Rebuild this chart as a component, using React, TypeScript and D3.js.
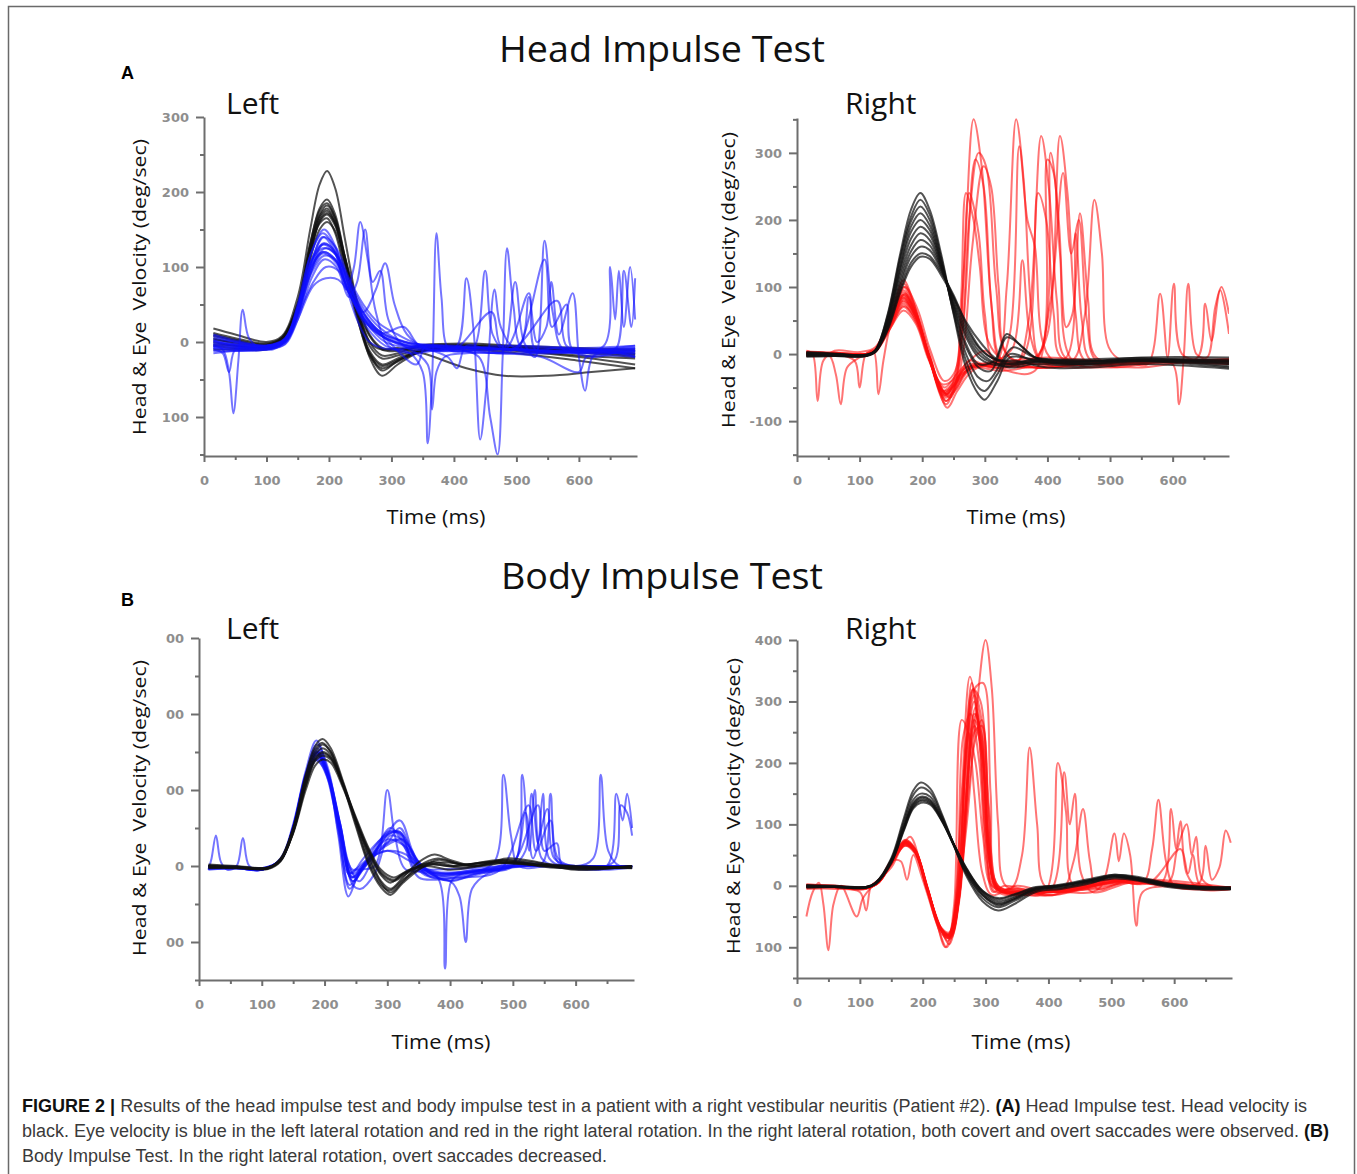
import React, { useEffect, useRef } from "react";
import * as d3 from "d3";

type Pt = [number, number];

// ---------- DATA ----------
const timeTicks = [0, 100, 200, 300, 400, 500, 600];
const timeMinor = [50, 150, 250, 350, 450, 550, 650];

const yTicksAL = [-100, 0, 100, 200, 300];
const yLabelsAL = ["100", "0", "100", "200", "300"];
const yMinorAL = [-150, -50, 50, 150, 250];

const yTicksAR = [-100, 0, 100, 200, 300];
const yLabelsAR = ["-100", "0", "100", "200", "300"];
const yMinorAR = [-150, -50, 50, 150, 250, 350];

const yTicksBL = [-100, 0, 100, 200, 300];
const yLabelsBL = ["100", "0", "100", "200", "300"];
const yMinorBL = [-150, -50, 50, 150, 250];

const yTicksBR = [-100, 0, 100, 200, 300, 400];
const yLabelsBR = ["100", "0", "100", "200", "300", "400"];
const yMinorBR = [-150, -50, 50, 150, 250, 350];

// Head Impulse Test, left: head velocity (black)
const headAL: Pt[][] = [
  [[15,18],[50,10],[100,0],[125,8],[150,60],[170,150],[185,210],[197,228],[210,205],[225,140],[245,50],[265,-20],[285,-45],[310,-30],[350,-12],[420,-10],[500,-15],[600,-25],[690,-35]],
  [[15,10],[50,3],[100,-3],[125,5],[150,50],[170,130],[185,178],[197,190],[210,170],[225,115],[245,40],[265,-15],[285,-38],[310,-25],[350,-10],[420,-8],[500,-12],[600,-20],[690,-30]],
  [[15,0],[50,-5],[100,-8],[125,2],[150,45],[170,125],[185,170],[197,182],[210,165],[225,115],[245,45],[265,0],[285,-10],[310,-8],[350,-15],[420,-35],[480,-45],[550,-45],[620,-40],[690,-35]],
  [[15,5],[50,-2],[100,-6],[125,4],[150,48],[170,128],[185,168],[197,178],[210,160],[225,108],[245,38],[265,-12],[285,-30],[310,-22],[350,-10],[420,-5],[500,-10],[600,-18],[690,-22]],
  [[15,-5],[50,-8],[100,-8],[125,0],[150,42],[170,120],[185,165],[197,175],[210,158],[225,112],[245,45],[265,-5],[285,-22],[310,-18],[350,-8],[420,-6],[500,-8],[600,-12],[690,-18]],
  [[15,-10],[50,-10],[100,-10],[125,-2],[150,38],[170,115],[185,160],[197,170],[210,155],[225,110],[245,48],[265,0],[285,-18],[310,-15],[350,-5],[420,-4],[500,-6],[600,-10],[690,-15]],
  [[15,3],[50,0],[100,-4],[125,6],[150,50],[170,122],[185,158],[197,165],[210,145],[225,95],[245,32],[265,-15],[285,-32],[310,-24],[350,-12],[420,-8],[500,-10],[600,-14],[690,-20]],
  [[15,-3],[50,-5],[100,-7],[125,2],[150,40],[170,110],[185,150],[197,160],[210,148],[225,105],[245,50],[265,8],[285,-10],[310,-12],[350,-6],[420,-5],[500,-8],[600,-12],[690,-16]],
  [[15,8],[50,2],[100,-5],[125,5],[150,52],[170,132],[185,175],[197,185],[210,165],[225,110],[245,35],[265,-18],[285,-35],[310,-26],[350,-12],[420,-6],[500,-8],[600,-10],[690,-12]],
  [[15,12],[50,5],[100,-2],[125,6],[150,46],[170,118],[185,162],[197,172],[210,158],[225,115],[245,55],[265,10],[285,-8],[310,-10],[350,-4],[420,-2],[500,-5],[600,-8],[690,-10]],
];

// Head Impulse Test, left: eye velocity (blue)
const eyeAL: Pt[][] = [
  [[15,-5],[30,-10],[40,-40],[47,-95],[55,-25],[62,43],[72,5],[90,-8],[110,-8],[130,5],[150,40],[170,90],[190,130],[205,125],[225,80],[245,30],[265,0],[300,-10],[350,-5],[420,-8],[500,-10],[600,-12],[690,-10]],
  [[15,-10],[30,-15],[40,-40],[50,-10],[80,-8],[110,-10],[130,2],[150,45],[170,100],[190,140],[210,120],[228,70],[240,100],[250,160],[262,110],[275,40],[295,-5],[330,-15],[380,-10],[450,-8],[550,-12],[690,-15]],
  [[15,2],[50,-5],[100,-5],[130,5],[150,50],[170,115],[192,150],[210,128],[230,70],[255,40],[275,70],[290,105],[305,50],[325,10],[360,-10],[420,-8],[500,-5],[600,-8],[690,-5]],
  [[15,-8],[50,-10],[100,-8],[130,2],[150,35],[175,80],[195,100],[215,95],[235,60],[260,20],[290,-5],[330,-15],[350,-40],[358,-135],[365,-50],[372,145],[380,60],[392,-10],[420,-12],[500,-10],[600,-15],[690,-12]],
  [[15,0],[50,-3],[100,-6],[130,0],[150,30],[175,75],[195,85],[215,83],[240,55],[260,25],[290,0],[330,-10],[358,-30],[365,-90],[372,-40],[385,-20],[420,-15],[500,-15],[600,-12],[690,-8]],
  [[15,5],[50,0],[100,-5],[130,3],[150,40],[172,100],[190,120],[210,110],[230,70],[255,30],[280,10],[320,-5],[380,-10],[405,-5],[420,85],[432,10],[442,-130],[452,-60],[465,70],[475,20],[500,-10],[600,-10],[690,-15]],
  [[15,-12],[50,-12],[100,-10],[130,-2],[150,35],[172,95],[190,118],[212,105],[235,60],[260,25],[290,5],[340,-8],[400,-10],[440,-20],[458,-100],[470,-150],[478,-20],[485,125],[495,50],[510,-10],[560,-15],[620,-12],[690,-10]],
  [[15,-3],[50,-6],[100,-8],[130,2],[150,42],[172,105],[190,130],[208,120],[230,80],[255,35],[285,10],[330,-5],[400,-8],[430,-10],[450,95],[462,10],[480,-10],[498,80],[512,0],[530,-20],[545,135],[558,40],[575,-10],[620,-15],[690,-12]],
  [[15,8],[50,0],[100,-5],[130,4],[150,45],[172,108],[190,125],[210,118],[230,85],[255,45],[280,20],[320,0],[380,-5],[450,-8],[505,-5],[520,60],[533,0],[548,20],[556,80],[568,10],[590,65],[600,-20],[610,-65],[622,-20],[650,-10],[690,-8]],
  [[15,-6],[50,-8],[100,-9],[130,0],[150,38],[172,98],[190,120],[210,110],[230,72],[255,32],[285,8],[330,-5],[400,-6],[500,-10],[580,-12],[640,-5],[650,100],[658,30],[664,95],[672,20],[682,100],[690,30]],
  [[15,-2],[50,-4],[100,-6],[130,4],[150,48],[172,120],[190,145],[210,125],[230,80],[255,40],[280,15],[320,0],[400,-5],[480,-10],[560,-14],[640,-10],[660,-8],[672,95],[684,20],[690,85]],
  [[15,-15],[50,-12],[100,-10],[130,-3],[150,30],[172,85],[192,110],[212,100],[232,60],[245,80],[258,150],[270,80],[282,95],[295,30],[320,-5],[380,-12],[450,-10],[530,-8],[600,-10],[690,-18]],
  [[15,10],[50,2],[100,-5],[130,4],[150,44],[172,110],[192,132],[212,118],[232,75],[255,38],[285,12],[330,-2],[390,-20],[405,-35],[420,-5],[480,-12],[520,65],[530,-10],[560,-8],[620,-10],[690,-5]],
  [[15,-5],[50,-7],[100,-7],[130,1],[150,40],[172,102],[195,125],[215,112],[236,72],[258,35],[285,12],[320,20],[345,-5],[400,-10],[460,40],[475,-5],[500,-10],[545,110],[557,20],[580,50],[590,-10],[640,-12],[690,-12]],
  [[15,2],[50,-3],[100,-6],[130,3],[150,42],[172,108],[192,140],[212,125],[232,85],[255,50],[280,25],[310,10],[350,-5],[410,-8],[490,-12],[565,55],[580,-5],[620,-20],[660,-15],[690,-20]],
  [[15,-8],[50,-10],[100,-8],[130,0],[150,36],[172,92],[192,115],[212,108],[232,70],[258,30],[290,5],[340,-30],[355,-5],[400,-12],[470,-15],[540,-20],[600,-40],[612,-20],[650,-18],[690,-20]],
];

// Head Impulse Test, right: head velocity (black)
const headAR: Pt[][] = [
  [[15,0],[60,-2],[110,-3],[125,5],[145,60],[165,150],[182,215],[197,240],[212,215],[230,150],[250,60],[270,-20],[290,-60],[300,-68],[320,-40],[340,-5],[380,-8],[450,-10],[550,-10],[690,-20]],
  [[15,-3],[60,-3],[110,-2],[125,6],[145,58],[165,145],[182,205],[197,230],[212,208],[230,145],[250,62],[270,-10],[290,-50],[300,-55],[320,-30],[340,0],[380,-10],[450,-12],[550,-8],[690,-18]],
  [[15,2],[60,0],[110,-2],[125,5],[145,55],[165,140],[182,198],[197,220],[212,200],[230,140],[250,65],[270,0],[290,-35],[305,-40],[325,-15],[345,10],[380,-5],[450,-8],[550,-6],[690,-15]],
  [[15,-2],[60,-2],[110,-3],[125,4],[145,52],[165,132],[182,190],[197,210],[212,192],[230,138],[250,70],[270,10],[290,-20],[310,-25],[335,25],[355,15],[380,-5],[450,-10],[550,-10],[690,-12]],
  [[15,0],[60,-1],[110,-2],[125,5],[145,50],[165,128],[182,182],[197,200],[212,185],[230,135],[250,72],[270,15],[290,-15],[315,-10],[335,30],[360,10],[390,-10],[450,-15],[550,-10],[690,-10]],
  [[15,3],[60,1],[110,-1],[125,5],[145,48],[165,122],[182,172],[197,190],[212,178],[230,132],[250,75],[270,25],[290,-5],[310,-15],[340,-18],[380,-12],[450,-15],[550,-8],[690,-8]],
  [[15,-4],[60,-3],[110,-3],[125,3],[145,45],[165,115],[182,162],[197,180],[212,170],[230,130],[250,78],[270,30],[290,0],[310,-12],[340,-15],[380,-8],[450,-12],[550,-5],[690,-5]],
  [[15,1],[60,0],[110,-2],[125,4],[145,42],[165,108],[182,153],[197,170],[212,162],[230,128],[250,82],[270,35],[290,5],[310,-10],[340,-20],[380,-15],[450,-18],[550,-12],[690,-15]],
  [[15,-1],[60,-2],[110,-2],[125,3],[145,40],[165,102],[182,145],[197,160],[212,155],[230,125],[250,85],[270,40],[290,10],[310,-5],[340,-12],[380,-10],[450,-12],[550,-8],[690,-10]],
  [[15,2],[60,0],[110,-1],[125,4],[145,38],[165,96],[182,136],[197,150],[212,146],[230,122],[250,88],[270,45],[290,12],[310,-5],[340,-15],[380,-12],[450,-15],[550,-10],[690,-12]],
  [[15,-2],[60,-1],[110,-2],[125,3],[145,36],[165,92],[182,130],[197,145],[212,142],[230,118],[250,85],[270,48],[295,15],[320,-8],[350,-10],[400,-20],[470,-20],[550,-15],[690,-22]],
];

// Head Impulse Test, right: eye velocity (red)
const eyeAR: Pt[][] = [
  [[15,5],[25,0],[33,-70],[42,-10],[60,5],[100,3],[125,10],[150,60],[170,110],[185,80],[205,10],[225,-40],[240,-60],[255,-20],[268,150],[282,350],[295,280],[310,80],[325,-10],[360,-20],[420,-15],[500,-10],[600,-12],[690,-10]],
  [[15,0],[50,0],[62,-30],[70,-75],[80,-20],[100,-5],[125,5],[150,50],[170,100],[188,70],[208,5],[230,-50],[245,-65],[260,-10],[275,200],[290,300],[302,280],[318,100],[335,0],[380,-15],[450,-10],[550,-12],[690,-8]],
  [[15,3],[60,0],[92,-10],[100,-50],[110,0],[125,8],[150,55],[170,95],[190,60],[210,0],[232,-55],[248,-45],[270,-20],[300,-15],[320,-10],[335,100],[350,350],[362,260],[375,60],[390,-10],[440,-20],[520,-15],[620,-10],[690,-12]],
  [[15,-2],[60,0],[110,0],[122,5],[130,-60],[138,-10],[150,45],[170,85],[190,55],[212,-5],[235,-60],[250,-50],[262,80],[270,240],[282,200],[292,130],[305,20],[330,-10],[380,-20],[460,-15],[560,-10],[690,-12]],
  [[15,0],[60,2],[110,0],[125,6],[150,50],[172,90],[192,55],[212,-10],[238,-75],[255,-40],[275,-10],[310,-20],[350,-15],[370,50],[390,325],[402,250],[415,80],[428,-5],[470,-15],[560,-10],[690,-10]],
  [[15,4],[60,2],[110,0],[125,5],[150,52],[170,105],[190,65],[210,0],[235,-65],[252,-55],[275,-20],[320,-15],[380,-5],[400,30],[420,325],[432,240],[445,60],[460,-10],[520,-15],[600,-10],[690,-8]],
  [[15,1],[60,0],[110,0],[125,4],[150,48],[170,88],[190,60],[210,-5],[236,-58],[255,-35],[285,-20],[340,-15],[385,-5],[405,300],[418,200],[430,40],[440,60],[452,210],[465,80],[478,-5],[540,-12],[620,-10],[690,-10]],
  [[15,-3],[60,-1],[110,-2],[125,3],[150,40],[170,72],[192,48],[212,-10],[238,-70],[255,-50],[280,-20],[330,-15],[400,-10],[440,-10],[460,60],[475,230],[487,150],[498,10],[520,-10],[600,-10],[690,-8]],
  [[15,2],[60,0],[110,-1],[125,5],[150,46],[170,80],[190,55],[210,0],[235,-62],[250,-55],[265,0],[280,160],[298,280],[310,250],[322,100],[335,0],[380,-20],[450,-15],[560,-10],[690,-15]],
  [[15,0],[60,0],[110,-2],[125,4],[150,50],[170,92],[190,58],[212,-8],[238,-70],[255,-45],[280,-20],[320,-15],[340,30],[355,310],[368,200],[380,160],[392,20],[410,-10],[480,-15],[580,-12],[690,-15]],
  [[15,3],[60,1],[110,0],[125,5],[150,44],[170,75],[190,50],[210,-2],[232,-55],[250,-48],[270,-20],[330,-25],[380,-10],[405,80],[425,270],[438,150],[450,200],[463,50],[478,-10],[540,-20],[620,-12],[690,-10]],
  [[15,-1],[60,0],[110,-1],[125,4],[150,42],[170,70],[190,48],[210,-5],[235,-50],[255,-30],[275,-10],[300,5],[320,-10],[360,-5],[385,240],[398,200],[410,60],[422,-5],[480,-10],[560,-12],[690,-12]],
  [[15,2],[60,1],[110,0],[125,5],[150,48],[170,84],[190,56],[212,-5],[238,-60],[255,-40],[275,-15],[320,-20],[390,-10],[450,-15],[520,-10],[560,-15],[580,90],[592,-5],[602,105],[615,0],[650,-10],[690,-10]],
  [[15,0],[60,0],[110,-1],[125,4],[150,45],[170,78],[192,52],[212,-6],[236,-58],[255,-42],[280,-18],[340,-10],[400,-5],[480,-10],[560,-10],[600,-15],[610,-75],[618,0],[625,105],[638,0],[655,-5],[668,70],[678,100],[690,60]],
  [[15,-2],[60,-1],[110,-1],[125,3],[150,40],[170,65],[190,45],[210,-8],[232,-45],[252,-35],[265,100],[275,240],[290,180],[300,60],[315,-10],[360,-15],[430,-12],[520,-10],[600,-12],[640,-5],[652,75],[662,20],[676,95],[690,30]],
  [[15,1],[60,2],[110,0],[125,4],[150,46],[170,88],[190,62],[212,0],[240,-80],[256,-55],[280,-25],[320,-10],[345,10],[360,140],[372,30],[390,-10],[430,-5],[445,180],[455,50],[470,-10],[550,-15],[620,-10],[690,-10]],
  [[15,0],[60,0],[110,-2],[125,4],[150,45],[170,82],[190,55],[212,-4],[235,-62],[255,-40],[282,-15],[315,-20],[380,-25],[400,290],[410,270],[420,150],[440,-10],[500,-20],[580,-12],[690,-8]],
  [[15,2],[60,0],[110,-1],[125,4],[150,48],[172,100],[192,68],[212,8],[235,-40],[250,-30],[265,40],[285,290],[298,250],[312,60],[328,-10],[380,-20],[470,-15],[560,-10],[690,-12]],
];

// Body Impulse Test, left: head velocity (black)
const headBL: Pt[][] = [
  [[15,0],[60,-2],[110,-3],[130,10],[150,50],[170,120],[185,158],[197,167],[210,155],[230,110],[250,60],[270,15],[290,-20],[305,-30],[325,-15],[350,5],[375,15],[400,8],[440,0],[490,10],[540,5],[600,-5],[690,0]],
  [[15,-2],[60,-3],[110,-3],[130,8],[150,48],[170,115],[185,150],[197,160],[210,150],[230,108],[250,58],[270,10],[290,-22],[305,-35],[325,-20],[350,0],[380,10],[420,2],[480,8],[540,2],[600,-3],[690,-2]],
  [[15,1],[60,-1],[110,-2],[130,9],[150,46],[170,112],[185,146],[197,155],[210,146],[230,106],[250,55],[270,5],[290,-25],[305,-32],[325,-18],[355,-2],[390,5],[440,0],[490,8],[550,3],[620,-2],[690,0]],
  [[15,-3],[60,-2],[110,-4],[130,6],[150,45],[170,108],[185,142],[197,150],[210,143],[230,105],[250,60],[270,18],[290,-12],[305,-22],[325,-10],[360,0],[400,-5],[450,0],[500,5],[560,0],[690,-3]],
  [[15,0],[60,-2],[110,-3],[130,7],[150,44],[170,105],[185,138],[197,145],[210,140],[230,105],[250,62],[270,22],[290,-8],[310,-18],[330,-8],[360,3],[400,0],[460,5],[520,2],[600,0],[690,-2]],
  [[15,-1],[60,-2],[110,-2],[130,8],[150,43],[170,100],[185,132],[197,140],[210,136],[230,102],[250,60],[270,20],[290,-10],[310,-20],[330,-10],[370,5],[410,0],[470,6],[530,2],[600,-4],[690,0]],
  [[15,2],[60,0],[110,-2],[130,9],[150,50],[170,118],[185,154],[197,162],[210,150],[230,105],[250,52],[270,2],[290,-28],[305,-38],[325,-22],[350,-5],[380,8],[420,2],[490,6],[560,-2],[690,-1]],
  [[15,-2],[60,-1],[110,-3],[130,7],[150,45],[170,106],[185,140],[197,148],[210,142],[230,106],[250,64],[270,24],[290,-5],[310,-15],[335,-5],[370,2],[420,-2],[480,4],[560,0],[690,-2]],
];

// Body Impulse Test, left: eye velocity (blue)
const eyeBL: Pt[][] = [
  [[15,-5],[20,10],[27,40],[35,5],[45,-5],[60,0],[70,37],[80,0],[100,-5],[130,8],[150,50],[170,120],[188,160],[205,130],[222,60],[238,-10],[250,-5],[280,0],[300,100],[312,40],[330,-5],[370,-5],[430,-3],[500,0],[580,0],[690,0]],
  [[15,-3],[60,-3],[100,-5],[130,10],[150,55],[170,125],[187,165],[205,125],[222,40],[238,-40],[252,-15],[275,10],[300,40],[320,45],[345,-5],[380,-15],[392,-135],[402,-20],[420,-10],[460,-5],[500,5],[560,0],[690,0]],
  [[15,0],[60,-2],[100,-4],[130,8],[150,52],[170,120],[188,150],[205,120],[222,50],[240,-30],[255,-10],[280,20],[305,50],[325,30],[350,-15],[400,-20],[415,-40],[425,-100],[435,-30],[460,-10],[510,0],[580,0],[690,0]],
  [[15,-2],[60,-3],[100,-5],[130,9],[150,50],[170,118],[188,145],[205,118],[222,45],[240,-25],[258,-5],[290,30],[320,60],[340,20],[360,-10],[420,-10],[470,5],[485,120],[497,40],[510,0],[560,0],[690,0]],
  [[15,-3],[60,-2],[100,-4],[130,8],[150,48],[170,112],[188,140],[205,115],[225,50],[245,-20],[265,5],[295,40],[320,45],[345,0],[380,-10],[440,-5],[500,0],[515,120],[526,20],[535,100],[546,10],[570,0],[690,-2]],
  [[15,0],[60,-1],[100,-3],[130,8],[150,50],[170,116],[188,148],[205,120],[225,52],[242,-15],[262,0],[290,25],[315,35],[340,10],[370,-10],[430,-8],[500,0],[520,20],[530,95],[540,30],[548,95],[558,10],[580,0],[690,0]],
  [[15,-2],[60,-2],[100,-5],[130,9],[150,52],[170,122],[188,155],[205,125],[225,55],[245,-15],[265,5],[300,20],[340,5],[380,-8],[450,-5],[520,0],[548,5],[560,95],[572,10],[600,0],[628,10],[640,120],[652,20],[670,0],[690,0]],
  [[15,-5],[60,-3],[100,-5],[130,8],[150,48],[170,114],[188,142],[205,118],[225,48],[245,-20],[265,0],[300,35],[330,25],[360,-5],[420,-10],[480,0],[540,0],[600,-3],[650,0],[665,95],[675,60],[682,95],[690,50]],
  [[15,-2],[60,-2],[100,-4],[130,8],[150,50],[170,118],[188,150],[205,122],[225,52],[245,-10],[265,5],[300,30],[320,50],[345,10],[380,-12],[430,-10],[500,2],[520,70],[532,10],[555,75],[566,10],[600,0],[660,5],[672,80],[682,70],[690,40]],
  [[15,0],[60,-2],[100,-4],[130,8],[150,50],[170,117],[188,148],[205,122],[225,55],[245,-5],[270,10],[300,20],[330,15],[360,-12],[420,-15],[480,-5],[525,80],[537,20],[560,60],[572,5],[620,0],[690,-2]],
  [[15,-3],[60,-3],[100,-5],[130,8],[150,50],[170,120],[188,152],[205,125],[225,55],[245,-25],[258,-30],[280,-10],[305,40],[330,30],[360,-5],[400,-20],[440,-10],[500,0],[560,0],[620,0],[690,0]],
  [[15,-1],[60,-2],[100,-3],[130,8],[150,50],[168,110],[182,140],[198,130],[215,80],[235,10],[255,-20],[275,5],[300,45],[325,40],[350,0],[390,-10],[450,-5],[500,5],[540,80],[550,20],[570,30],[580,0],[690,0]],
  [[15,-4],[60,-3],[100,-5],[130,8],[150,52],[170,118],[188,150],[206,118],[224,45],[242,-10],[262,10],[290,35],[315,45],[340,10],[370,-15],[410,-15],[470,-5],[520,0],[600,0],[640,-5],[690,-2]],
  [[15,0],[60,-1],[100,-4],[130,8],[150,50],[170,116],[188,146],[206,118],[224,48],[244,-15],[264,0],[295,25],[325,35],[350,5],[390,-18],[450,-10],[510,3],[570,0],[640,0],[690,0]],
];

// Body Impulse Test, right: head velocity (black)
const headBR: Pt[][] = [
  [[15,0],[60,-2],[110,-2],[125,5],[150,45],[170,110],[185,155],[197,168],[212,158],[230,118],[250,65],[270,15],[295,-25],[320,-40],[345,-30],[380,-10],[420,-5],[470,5],[500,15],[540,10],[590,0],[640,-5],[690,-5]],
  [[15,-2],[60,-2],[110,-3],[125,4],[150,43],[170,105],[185,148],[197,160],[212,152],[230,115],[250,65],[270,18],[295,-20],[320,-35],[345,-25],[380,-8],[420,0],[470,10],[505,18],[545,12],[590,2],[640,-3],[690,-5]],
  [[15,1],[60,-1],[110,-2],[125,5],[150,42],[170,100],[185,140],[197,150],[212,145],[230,112],[250,66],[270,22],[295,-15],[320,-32],[345,-22],[380,-6],[420,-2],[470,8],[505,15],[545,10],[590,0],[640,-4],[690,-3]],
  [[15,-3],[60,-2],[110,-3],[125,4],[150,40],[170,96],[185,135],[197,145],[212,140],[230,110],[250,66],[270,24],[295,-12],[320,-28],[345,-20],[380,-5],[420,0],[470,10],[505,16],[545,12],[590,2],[640,-2],[690,-4]],
  [[15,0],[60,-1],[110,-2],[125,4],[150,39],[170,93],[185,130],[197,140],[212,136],[230,108],[250,66],[270,26],[295,-10],[320,-25],[345,-18],[380,-4],[420,2],[470,12],[505,18],[545,14],[590,4],[640,-2],[690,-3]],
  [[15,-1],[60,-2],[110,-2],[125,3],[150,37],[170,90],[185,126],[197,135],[212,132],[230,106],[250,66],[270,28],[295,-8],[320,-22],[345,-15],[380,-3],[420,0],[470,8],[505,14],[545,10],[590,0],[640,-4],[690,-5]],
  [[15,1],[60,0],[110,-2],[125,4],[150,40],[170,95],[185,133],[197,143],[212,138],[230,108],[250,64],[270,20],[295,-15],[320,-30],[345,-22],[380,-6],[420,-3],[470,6],[505,12],[545,8],[590,-2],[640,-6],[690,-6]],
  [[15,-2],[60,-1],[110,-3],[125,3],[150,38],[170,92],[185,128],[197,138],[212,134],[230,107],[250,67],[270,27],[295,-8],[320,-20],[345,-14],[380,-2],[420,1],[470,10],[505,16],[545,12],[590,3],[640,-1],[690,-2]],
];

// Body Impulse Test, right: eye velocity (red)
const eyeBR: Pt[][] = [
  [[15,-50],[25,-10],[35,5],[42,-30],[50,-105],[58,-30],[70,0],[95,-50],[105,-20],[125,5],[150,30],[165,60],[180,80],[198,30],[218,-40],[236,-100],[248,-60],[262,150],[275,340],[288,260],[300,80],[312,-10],[330,0],[380,-10],[450,-5],[520,10],[600,0],[690,-5]],
  [[15,-5],[60,-5],[100,-10],[110,-40],[118,0],[130,10],[150,35],[170,65],[185,60],[205,0],[225,-65],[240,-80],[255,-20],[270,100],[285,280],[300,400],[310,320],[320,100],[332,0],[370,-10],[430,-5],[500,10],[560,5],[620,-5],[690,-5]],
  [[15,0],[60,-2],[110,-5],[130,8],[150,40],[172,70],[188,55],[208,-10],[228,-75],[240,-85],[250,-30],[262,270],[272,250],[282,150],[295,20],[310,-15],[340,-5],[400,-15],[470,0],[540,10],[620,0],[690,-5]],
  [[15,0],[60,-3],[110,-5],[130,6],[150,38],[172,72],[188,58],[208,-8],[228,-70],[242,-80],[255,-10],[268,200],[278,330],[290,250],[302,60],[315,-10],[350,0],[400,-10],[460,-5],[530,5],[600,0],[690,-3]],
  [[15,-3],[60,-2],[110,-4],[130,6],[150,36],[170,68],[188,55],[206,-5],[228,-68],[240,-90],[252,-30],[265,180],[280,320],[292,300],[305,120],[318,0],[360,-5],[420,-10],[500,8],[580,5],[690,-5]],
  [[15,2],[60,0],[110,-3],[130,7],[150,40],[172,75],[188,60],[208,-8],[230,-72],[242,-95],[255,-40],[268,100],[282,280],[295,240],[308,60],[322,-5],[360,-10],[410,-15],[470,0],[540,12],[610,0],[690,-2]],
  [[15,-2],[60,-1],[110,-4],[130,6],[150,38],[170,70],[188,56],[208,-6],[228,-70],[242,-85],[256,-20],[272,250],[284,200],[296,80],[310,0],[340,-5],[358,50],[370,225],[382,100],[394,0],[430,-10],[500,5],[570,10],[690,-3]],
  [[15,0],[60,-2],[110,-3],[130,7],[150,40],[172,72],[188,58],[208,-5],[228,-68],[242,-78],[256,-10],[270,220],[282,300],[294,200],[306,40],[320,-10],[360,-15],[395,-10],[415,200],[428,120],[440,0],[480,-5],[540,10],[610,0],[690,-2]],
  [[15,-3],[60,-2],[110,-4],[130,5],[150,35],[172,65],[188,52],[208,-10],[230,-72],[244,-82],[258,-20],[272,180],[285,280],[298,180],[310,20],[325,-10],[370,-12],[405,-5],[425,185],[434,100],[442,150],[452,20],[470,-10],[530,5],[600,0],[690,-4]],
  [[15,1],[60,-1],[110,-3],[130,6],[150,38],[172,68],[188,55],[208,-8],[230,-70],[244,-80],[258,-15],[270,150],[282,260],[294,220],[306,40],[320,-5],[370,-15],[420,-10],[440,40],[455,125],[466,40],[478,-5],[530,10],[600,0],[690,-2]],
  [[15,-1],[60,-2],[110,-3],[130,6],[150,37],[172,70],[188,56],[208,-6],[228,-68],[242,-82],[256,-25],[268,120],[280,320],[292,280],[304,80],[318,-5],[360,-10],[420,-10],[480,-5],[505,85],[512,40],[520,85],[530,50],[540,-65],[550,-10],[600,0],[690,-3]],
  [[15,0],[60,-1],[110,-3],[130,7],[150,40],[172,74],[188,60],[208,-4],[228,-66],[242,-76],[256,-10],[270,230],[282,310],[294,240],[306,50],[320,-5],[370,-10],[440,-5],[500,10],[550,5],[565,60],[575,140],[587,40],[600,0],[640,-5],[690,-5]],
  [[15,-2],[60,-2],[110,-4],[130,6],[150,36],[172,66],[188,54],[208,-8],[230,-74],[244,-84],[258,-20],[272,210],[284,290],[296,200],[308,30],[322,-8],[380,-10],[460,0],[530,10],[580,5],[595,125],[603,60],[610,105],[620,20],[640,-5],[690,-5]],
  [[15,1],[60,0],[110,-2],[130,7],[150,40],[172,72],[188,58],[208,-6],[230,-70],[244,-80],[258,-15],[270,160],[282,270],[294,230],[306,50],[320,-5],[380,-12],[460,-2],[530,8],[590,5],[605,60],[620,100],[628,50],[635,80],[645,10],[670,-5],[690,-5]],
  [[15,-2],[60,-1],[110,-3],[130,6],[150,38],[172,68],[188,56],[208,-7],[230,-72],[244,-82],[258,-18],[270,140],[282,250],[294,260],[306,60],[320,-5],[380,-10],[460,0],[530,10],[600,0],[640,5],[650,65],[660,10],[672,30],[682,90],[690,70]],
  [[15,0],[60,-2],[110,-3],[130,7],[150,40],[165,40],[175,10],[185,50],[200,10],[222,-60],[238,-100],[252,-50],[264,240],[276,280],[290,200],[302,40],[316,-5],[360,-8],[420,-5],[490,10],[560,5],[610,60],[622,20],[630,50],[642,0],[690,-3]],
  [[15,-1],[60,-2],[110,-3],[130,6],[150,38],[172,70],[188,56],[208,-6],[228,-70],[242,-80],[256,-20],[268,200],[282,320],[296,330],[308,150],[320,0],[360,-10],[430,-8],[500,5],[570,8],[640,0],[690,-4]],
  [[15,2],[60,0],[110,-2],[130,7],[150,40],[172,72],[188,58],[208,-6],[230,-74],[244,-86],[258,-25],[270,120],[282,230],[294,270],[306,120],[320,0],[370,-10],[440,-4],[510,12],[570,6],[630,0],[690,-4]],
];

const mainTitles = ["Head Impulse Test", "Body Impulse Test"];
const sideTitles = ["Left", "Right"];
const yAxisTitle = "Head & Eye  Velocity (deg/sec)";
const xAxisTitle = "Time (ms)";

// ---------- LAYOUT ----------
interface PanelCfg {
  id: string;
  head: Pt[][];
  eye: Pt[][];
  eyeColor: string;
  headOnTop: boolean;
  xDomain: [number, number];
  xRange: [number, number];
  yDomain: [number, number];
  yRange: [number, number];
  yTicks: number[];
  yLabels: string[];
  yMinor: number[];
  side: string;
  sideX: number;
  sideY: number;
  yTitleX: number;
  yTitleY: number;
  xTitleX: number;
  xTitleY: number;
  labelClipX?: number;
}

const panels: PanelCfg[] = [
  { id: "AL", head: headAL, eye: eyeAL, eyeColor: "#1010ff", headOnTop: false,
    xDomain: [0, 693], xRange: [204, 637], yDomain: [-152, 300], yRange: [456, 117],
    yTicks: yTicksAL, yLabels: yLabelsAL, yMinor: yMinorAL,
    side: sideTitles[0], sideX: 226, sideY: 114, yTitleX: 146, yTitleY: 287, xTitleX: 436, xTitleY: 524 },
  { id: "AR", head: headAR, eye: eyeAR, eyeColor: "#ff1010", headOnTop: true,
    xDomain: [0, 690], xRange: [797, 1229], yDomain: [-152, 352], yRange: [456, 118],
    yTicks: yTicksAR, yLabels: yLabelsAR, yMinor: yMinorAR,
    side: sideTitles[1], sideX: 845, sideY: 114, yTitleX: 735, yTitleY: 280, xTitleX: 1016, xTitleY: 524 },
  { id: "BL", head: headBL, eye: eyeBL, eyeColor: "#1010ff", headOnTop: true,
    xDomain: [0, 693], xRange: [199, 634], yDomain: [-150, 300], yRange: [980, 638],
    yTicks: yTicksBL, yLabels: yLabelsBL, yMinor: yMinorBL,
    side: sideTitles[0], sideX: 226, sideY: 639, yTitleX: 146, yTitleY: 808, xTitleX: 441, xTitleY: 1049, labelClipX: 166 },
  { id: "BR", head: headBR, eye: eyeBR, eyeColor: "#ff1010", headOnTop: true,
    xDomain: [0, 692], xRange: [797, 1232], yDomain: [-150, 400], yRange: [978, 640],
    yTicks: yTicksBR, yLabels: yLabelsBR, yMinor: yMinorBR,
    side: sideTitles[1], sideX: 845, sideY: 639, yTitleX: 740, yTitleY: 806, xTitleX: 1021, xTitleY: 1049 },
];

const W = 1357;
const H = 1174;
const AXIS_COLOR = "#6e6e6e";
const TICK_TEXT = "#8e8e8e";
const LABEL_FONT = "'Open Sans', 'Noto Sans', sans-serif";

export default function App() {
  const ref = useRef<SVGSVGElement>(null);

  useEffect(() => {
    const svg = d3.select(ref.current);
    svg.selectAll("*").remove();

    svg.append("rect").attr("x", 0).attr("y", 0).attr("width", W).attr("height", H).attr("fill", "#fff");
    svg.append("rect").attr("x", 8.5).attr("y", 6.5).attr("width", 1346).attr("height", 1200)
      .attr("fill", "none").attr("stroke", "#6a6a6a").attr("stroke-width", 1.5);

    const defs = svg.append("defs");

    svg.append("text").attr("x", 662).attr("y", 62).attr("text-anchor", "middle")
      .attr("font-family", LABEL_FONT).attr("font-size", 36).attr("fill", "#111")
      .attr("textLength", 326).attr("lengthAdjust", "spacingAndGlyphs").text(mainTitles[0]);
    svg.append("text").attr("x", 662).attr("y", 589).attr("text-anchor", "middle")
      .attr("font-family", LABEL_FONT).attr("font-size", 36).attr("fill", "#111")
      .attr("textLength", 322).attr("lengthAdjust", "spacingAndGlyphs").text(mainTitles[1]);

    svg.append("text").attr("x", 121).attr("y", 79).attr("font-family", "'Liberation Sans', Arial, sans-serif")
      .attr("font-weight", "bold").attr("font-size", 18).attr("fill", "#000").text("A");
    svg.append("text").attr("x", 121).attr("y", 606).attr("font-family", "'Liberation Sans', Arial, sans-serif")
      .attr("font-weight", "bold").attr("font-size", 18).attr("fill", "#000").text("B");

    panels.forEach((p) => {
      const x = d3.scaleLinear().domain(p.xDomain).range(p.xRange);
      const y = d3.scaleLinear().domain(p.yDomain).range(p.yRange);
      const g = svg.append("g");

      defs.append("clipPath").attr("id", "clip-" + p.id).append("rect")
        .attr("x", p.xRange[0]).attr("y", p.yRange[1] - 10)
        .attr("width", p.xRange[1] - p.xRange[0]).attr("height", p.yRange[0] - p.yRange[1] + 10);

      const line = d3.line<Pt>().x((d) => x(d[0])).y((d) => y(d[1]))
        .curve(d3.curveCatmullRom.alpha(0.5));

      const plot = g.append("g").attr("clip-path", `url(#clip-${p.id})`);
      const drawHead = () => plot.append("g").selectAll("path").data(p.head).join("path")
        .attr("d", (d) => line(d) as string).attr("fill", "none")
        .attr("stroke", "#101010").attr("stroke-opacity", 0.72).attr("stroke-width", 2)
        .attr("stroke-linejoin", "round");
      const drawEye = () => plot.append("g").selectAll("path").data(p.eye).join("path")
        .attr("d", (d) => line(d) as string).attr("fill", "none")
        .attr("stroke", p.eyeColor).attr("stroke-opacity", 0.58).attr("stroke-width", 2)
        .attr("stroke-linejoin", "round");
      if (p.headOnTop) { drawEye(); drawHead(); } else { drawHead(); drawEye(); }

      const yAxisG = g.append("g").attr("transform", `translate(${p.xRange[0]},0)`);
      yAxisG.call(d3.axisLeft(y).tickValues(p.yTicks)
        .tickFormat((_d, i) => p.yLabels[i]).tickSize(8).tickSizeOuter(0).tickPadding(7));
      const yMinorG = g.append("g").attr("transform", `translate(${p.xRange[0]},0)`);
      yMinorG.call(d3.axisLeft(y).tickValues(p.yMinor).tickFormat(() => "").tickSize(4).tickSizeOuter(0));
      yMinorG.select(".domain").remove();

      const xAxisG = g.append("g").attr("transform", `translate(0,${p.yRange[0]})`);
      xAxisG.call(d3.axisBottom(x).tickValues(timeTicks).tickSize(6).tickSizeOuter(0).tickPadding(14));
      const xMinorG = g.append("g").attr("transform", `translate(0,${p.yRange[0]})`);
      xMinorG.call(d3.axisBottom(x).tickValues(timeMinor).tickFormat(() => "").tickSize(4).tickSizeOuter(0));
      xMinorG.select(".domain").remove();

      [yAxisG, yMinorG, xAxisG, xMinorG].forEach((a) => {
        a.selectAll("path, line").attr("stroke", AXIS_COLOR).attr("stroke-width", 2);
        a.selectAll("text").attr("fill", TICK_TEXT).attr("font-family", "'DejaVu Sans', sans-serif")
          .attr("font-weight", "bold").attr("font-size", 13);
      });

      if (p.labelClipX !== undefined) {
        defs.append("clipPath").attr("id", "lclip-" + p.id).append("rect")
          .attr("x", p.labelClipX - p.xRange[0]).attr("y", 0).attr("width", 200).attr("height", H);
        yAxisG.attr("clip-path", `url(#lclip-${p.id})`);
      }

      g.append("text").attr("x", p.sideX).attr("y", p.sideY).attr("font-family", LABEL_FONT)
        .attr("font-size", 30).attr("fill", "#111").text(p.side);
      g.append("text").attr("transform", `translate(${p.yTitleX},${p.yTitleY}) rotate(-90)`)
        .attr("text-anchor", "middle").attr("font-family", LABEL_FONT).attr("font-size", 19)
        .attr("fill", "#111").attr("textLength", 296).attr("lengthAdjust", "spacingAndGlyphs")
        .style("white-space", "pre").text(yAxisTitle);
      g.append("text").attr("x", p.xTitleX).attr("y", p.xTitleY).attr("text-anchor", "middle")
        .attr("font-family", LABEL_FONT).attr("font-size", 20).attr("fill", "#111")
        .attr("textLength", 99).attr("lengthAdjust", "spacingAndGlyphs").text(xAxisTitle);
    });

    const cap = svg.append("g").attr("font-family", "'Liberation Sans', Arial, sans-serif")
      .attr("font-size", 18).attr("fill", "#3a3a3a");
    const l1 = cap.append("text").attr("x", 22).attr("y", 1112).attr("textLength", 1285)
      .attr("lengthAdjust", "spacingAndGlyphs");
    l1.append("tspan").attr("font-weight", "bold").attr("fill", "#111").text("FIGURE 2 |");
    l1.append("tspan").text(" Results of the head impulse test and body impulse test in a patient with a right vestibular neuritis (Patient #2). ");
    l1.append("tspan").attr("font-weight", "bold").attr("fill", "#111").text("(A)");
    l1.append("tspan").text(" Head Impulse test. Head velocity is");
    const l2 = cap.append("text").attr("x", 22).attr("y", 1137).attr("textLength", 1307)
      .attr("lengthAdjust", "spacingAndGlyphs");
    l2.append("tspan").text("black. Eye velocity is blue in the left lateral rotation and red in the right lateral rotation. In the right lateral rotation, both covert and overt saccades were observed. ");
    l2.append("tspan").attr("font-weight", "bold").attr("fill", "#111").text("(B)");
    cap.append("text").attr("x", 22).attr("y", 1162).attr("textLength", 585)
      .attr("lengthAdjust", "spacingAndGlyphs")
      .text("Body Impulse Test. In the right lateral rotation, overt saccades decreased.");
  }, []);

  return (
    <svg ref={ref} width={W} height={H}
      style={{ position: "absolute", left: 0, top: 0, display: "block" }} />
  );
}
